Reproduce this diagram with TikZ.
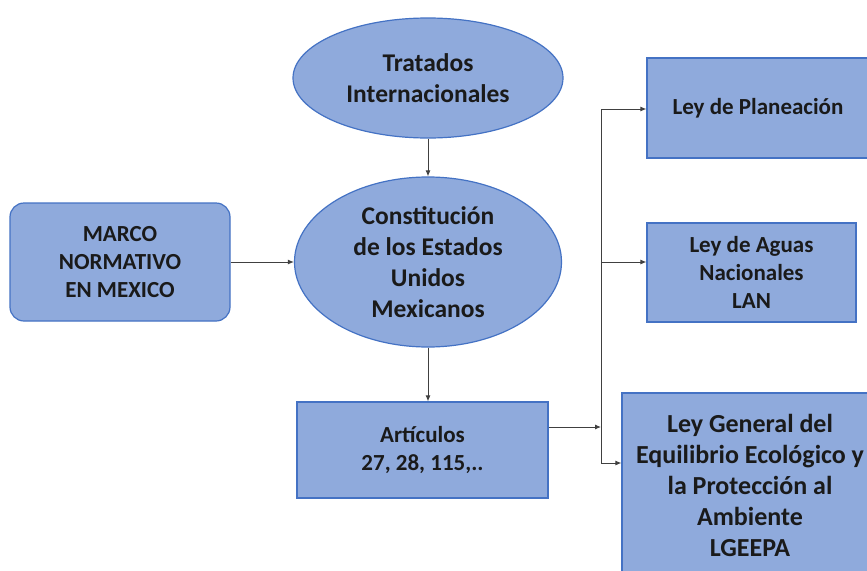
\documentclass[tikz,border=0pt]{standalone}
\usepackage{fontspec}
\setmainfont{Carlito}
\usetikzlibrary{shapes.geometric,arrows.meta,calc}
\definecolor{boxfill}{HTML}{8FAADC}
\definecolor{boxline}{HTML}{4472C4}
\definecolor{txt}{HTML}{1A1A1A}
\begin{document}
\begin{tikzpicture}[x=1pt,y=1pt,
  shp/.style={fill=boxfill,draw=boxline,line width=1.2pt,align=center,text=txt,inner sep=0pt},
  sq/.style={shp,rectangle},
  rnd/.style={shp,rectangle,rounded corners=14pt},
  ell/.style={shp,ellipse},
  fA/.style={font=\bfseries\fontsize{23}{28}\selectfont},
  fB/.style={font=\bfseries\fontsize{25.5}{31}\selectfont},
  fC/.style={font=\bfseries\fontsize{26}{31}\selectfont},
  arr/.style={draw=black!75,line width=0.9pt,-{Latex[length=6pt,width=5pt]}},
  ln/.style={draw=black!75,line width=0.9pt}]
\useasboundingbox (0,0) rectangle (867,-570);
\fill[white] (0,0) rectangle (867,-570);
\node[rnd,fA,minimum width=220pt,minimum height=118pt] (marco) at (120,-262) {MARCO\\NORMATIVO\\EN MEXICO};
\node[ell,fB,minimum width=270pt,minimum height=120pt] (trat) at (428,-78) {Tratados\\Internacionales};
\node[ell,fB,minimum width=267pt,minimum height=170pt] (cons) at (428,-262) {Constituci\'on\\de los Estados\\Unidos\\Mexicanos};
\node[sq,fA,minimum width=251pt,minimum height=96pt] (art) at (422.5,-450) {Art\'iculos\\27, 28, 115,..};
\node[sq,fA,minimum width=222pt,minimum height=100pt] (pla) at (758,-108) {Ley de Planeaci\'on};
\node[sq,fA,minimum width=209pt,minimum height=99pt] (agu) at (751.5,-272.5) {Ley de Aguas\\Nacionales\\LAN};
\node[sq,fC,minimum width=256pt,minimum height=184pt] (lge) at (750,-485) {Ley General del\\Equilibrio Ecol\'ogico y\\la Protecci\'on al\\Ambiente\\LGEEPA};
\draw[arr] (trat.south) -- (cons.north);
\draw[arr] (marco.east) -- (cons.west);
\draw[arr] (cons.south) -- (cons.south|-art.north);
\coordinate (j) at (601,-427);
\coordinate (bt) at (601,-109);
\coordinate (bb) at (601,-463);
\draw[arr] (art.east|-j) -- (j);
\draw[ln] (bt) -- (bb);
\draw[arr] (bt) -- (pla.west|-bt);
\draw[arr] (601,-262) coordinate (bm) -- (agu.west|-bm);
\draw[arr] (bb) -- (lge.west|-bb);
\end{tikzpicture}
\end{document}
